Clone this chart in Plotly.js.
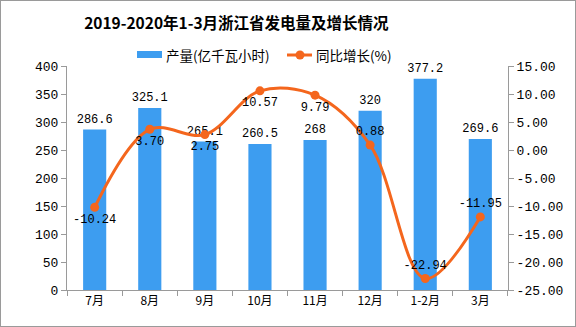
<!DOCTYPE html>
<html><head><meta charset="utf-8">
<script src="https://cdn.plot.ly/plotly-3.0.1.min.js"></script>
<style>
html,body{margin:0;padding:0;background:#fff;}
#chart{width:576px;height:327px;box-sizing:border-box;border:1px solid #9a9a9a;}
</style>
</head><body>
<div id="chart"></div>
<script>
const categories = ['7月','8月','9月','10月','11月','12月','1-2月','3月'];
const output = [286.6, 325.1, 265.1, 260.5, 268, 320, 377.2, 269.6];
const growth = [-10.24, 3.70, 2.75, 10.57, 9.79, 0.88, -22.94, -11.95];
const leftTicks = [0,50,100,150,200,250,300,350,400];
const rightTicks = [-25,-20,-15,-10,-5,0,5,10,15];
const growthLabelPos = ['bottom center','bottom center','bottom center','bottom center','bottom center','top center','top center','top center'];
const seriesNames = ['产量(亿千瓦小时)', '同比增长(%)'];

const numFont = 'Liberation Mono, Noto Sans CJK SC, monospace';
const cjkFont = 'Noto Sans CJK SC, sans-serif';
const barColor = '#3d9df0';
const lineColor = '#f4661d';

const traces = [
  {
    type:'bar', name:seriesNames[0], x:categories, y:output,
    marker:{color:barColor},
    text: output.map(v=>String(v)), textposition:'outside', cliponaxis:false, constraintext:'none',
    textfont:{family:numFont, size:12, color:'#000'},
    hoverinfo:'none'
  },
  {
    type:'scatter', mode:'lines+markers+text', name:seriesNames[1], x:categories, y:growth, yaxis:'y2',
    line:{color:lineColor, width:3, shape:'spline', smoothing:1},
    marker:{color:lineColor, size:9},
    text: growth.map(v=>v.toFixed(2)), textposition:growthLabelPos, cliponaxis:false,
    textfont:{family:numFont, size:12, color:'#000'},
    hoverinfo:'none'
  }
];

// plot area: left 67px, width 441px; top 66px, height 224px (page coordinates)
const px = x => (x - 67) / 441;
const py = y => (290 - y) / 224;

const layout = {
  width:574, height:325,
  margin:{l:66, r:67, t:65, b:36, pad:0},
  paper_bgcolor:'#fff', plot_bgcolor:'#fff',
  bargap:0.58,
  showlegend:false,
  title:{text:'<b>2019-2020年1-3月浙江省发电量及增长情况</b>', font:{family:cjkFont, size:15.5, color:'#000'}, x:0.41, xanchor:'center', y:0.93, yanchor:'middle', xref:'container', yref:'container'},
  shapes:[
    {type:'rect', xref:'paper', yref:'paper', x0:px(137), x1:px(162), y0:py(58), y1:py(51), fillcolor:barColor, line:{width:0}},
    {type:'line', xref:'paper', yref:'paper', x0:px(287), x1:px(312), y0:py(55), y1:py(55), line:{color:lineColor, width:3}},
    {type:'circle', xref:'paper', yref:'paper', xsizemode:'pixel', ysizemode:'pixel', xanchor:px(300), yanchor:py(55), x0:-4.5, x1:4.5, y0:-4.5, y1:4.5, fillcolor:lineColor, line:{width:0}}
  ],
  annotations:[
    {xref:'paper', yref:'paper', x:px(164), y:py(55), xanchor:'left', yanchor:'middle', text:seriesNames[0], showarrow:false, font:{family:cjkFont, size:13.5, color:'#000'}},
    {xref:'paper', yref:'paper', x:px(314), y:py(55), xanchor:'left', yanchor:'middle', text:seriesNames[1], showarrow:false, font:{family:cjkFont, size:13.5, color:'#000'}}
  ],
  xaxis:{type:'category', showline:true, linecolor:'#9a9a9a', linewidth:1, ticks:'outside', tickson:'boundaries', ticklen:5, tickcolor:'#9a9a9a', tickfont:{family:cjkFont, size:12, color:'#000'}, showgrid:false, zeroline:false, fixedrange:true},
  yaxis:{range:[0,400], tickvals:leftTicks, ticktext:leftTicks.map(String), showline:true, linecolor:'#9a9a9a', linewidth:1, ticks:'outside', ticklen:5, tickcolor:'#9a9a9a', tickfont:{family:numFont, size:13, color:'#000'}, showgrid:false, zeroline:false},
  yaxis2:{range:[-25,15], overlaying:'y', side:'right', tickvals:rightTicks, ticktext:rightTicks.map(v=>v.toFixed(2)), showline:true, linecolor:'#9a9a9a', linewidth:1, ticks:'outside', ticklen:5, tickcolor:'#9a9a9a', tickfont:{family:numFont, size:13, color:'#000'}, showgrid:false, zeroline:false}
};

Plotly.newPlot('chart', traces, layout, {displayModeBar:false, staticPlot:true});
</script>
</body></html>
